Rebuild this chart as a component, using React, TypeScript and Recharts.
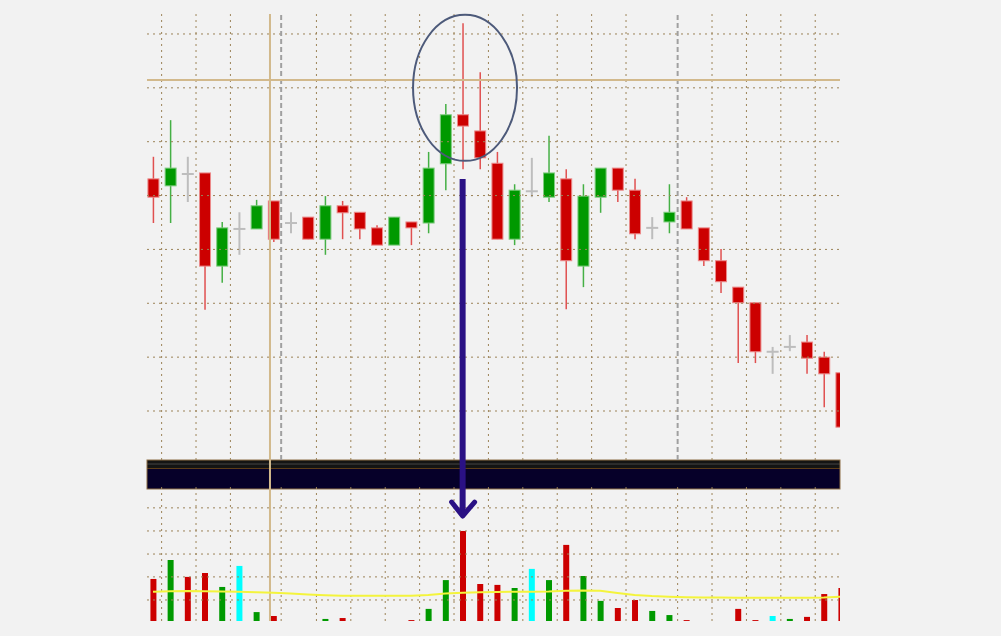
import React from "react";
import {
  ComposedChart,
  Bar,
  Line,
  XAxis,
  YAxis,
  Cell,
  ReferenceLine,
  ReferenceArea,
  ReferenceDot,
} from "recharts";

// candle prices (arbitrary units, one grid step = 10)
const opens = [143.1, 141.8, 144.0, 144.2, 126.9, 133.8, 133.8, 139.0, 134.9, 136.0, 131.9, 138.1, 136.9, 134.0, 130.8, 135.1, 134.9, 145.9, 155.0, 152.0, 146.0, 131.9, 140.8, 139.7, 143.1, 126.9, 139.7, 145.1, 141.0, 134.0, 135.1, 139.0, 134.0, 127.9, 123.0, 120.1, 111.0, 111.9, 112.8, 110.0, 107.1];
const highs = [147.2, 154.0, 147.2, 144.2, 135.1, 136.9, 139.2, 139.0, 136.9, 136.0, 139.9, 139.0, 136.9, 134.5, 136.0, 135.1, 148.1, 157.0, 172.0, 162.9, 148.1, 142.1, 147.0, 151.1, 144.9, 142.1, 145.1, 145.1, 143.1, 136.0, 142.1, 139.7, 134.0, 130.1, 123.0, 120.1, 111.9, 114.1, 114.1, 111.0, 108.9];
const lows = [134.9, 134.9, 138.8, 118.8, 123.8, 129.0, 133.8, 131.4, 133.0, 131.9, 129.0, 131.9, 131.9, 130.8, 130.8, 130.8, 133.0, 141.0, 144.9, 144.9, 131.9, 130.8, 139.7, 138.8, 118.9, 123.0, 136.8, 138.8, 131.9, 131.9, 133.0, 133.8, 126.9, 121.9, 108.9, 108.9, 106.9, 111.1, 106.9, 100.7, 94.1];
const closes = [139.7, 145.1, 144.0, 126.9, 134.0, 133.8, 138.1, 131.9, 134.9, 131.9, 138.1, 136.8, 133.8, 130.8, 136.0, 134.0, 145.1, 155.0, 152.9, 147.0, 131.9, 141.0, 140.8, 144.2, 127.9, 139.9, 145.1, 141.0, 132.9, 134.0, 136.9, 133.8, 127.9, 124.0, 120.1, 111.0, 111.0, 111.9, 109.8, 106.9, 97.0];

// volume histogram + its moving average
const volumes = [18.4, 26.7, 19.3, 21.0, 14.9, 24.1, 3.9, 2.2, 0, 0, 0.9, 1.3, 0, 0, 0, 0.4, 5.3, 17.9, 39.4, 16.2, 15.8, 14.4, 22.8, 17.9, 33.3, 19.7, 8.8, 5.7, 9.2, 4.4, 2.6, 0.4, 0, 0, 5.3, 0.4, 2.2, 0.9, 1.8, 11.8, 14.4];
const volColors = "rgrrgcgrrrgrrrrrggrrrgcgrggrrggrrrrrcgrrr";
const volMa = [12.8, 13.0, 13.1, 13.0, 12.9, 12.8, 12.6, 12.4, 12.0, 11.6, 11.3, 11.1, 11.1, 11.0, 11.0, 11.0, 11.4, 12.0, 12.4, 12.6, 12.7, 12.8, 12.8, 12.9, 13.2, 13.3, 13.2, 12.3, 11.4, 10.9, 10.6, 10.4, 10.3, 10.3, 10.2, 10.2, 10.2, 10.2, 10.2, 10.3, 10.6];

// grid positions
const priceGrid = [100, 110, 120, 130, 140, 150, 160, 170];
const volGrid = [9.2, 19.3, 29.3, 39.4, 49.5];
const timeGrid = [0.5, 2.5, 4.5, 9.5, 11.5, 13.5, 15.5, 17.5, 19.5, 21.5, 23.5, 25.5, 27.5, 32.5, 34.5, 36.5, 38.5];
const sessionBreaks = [7.45, 30.5];

const data = opens.map((o, i) => ({
  i,
  o,
  h: highs[i],
  l: lows[i],
  c: closes[i],
  vol: volumes[i],
  ma: volMa[i],
}));

const colorOf: Record<string, string> = { r: "#cc0000", g: "#009900", c: "#00ffff" };

const Candle = (props: any) => {
  const { x, y, width, height, payload } = props;
  const { o, h, l, c } = payload;
  const k = height / (h - l);
  const py = (v: number) => y + (h - v) * k;
  const cx = x + width / 2;
  if (o === c) {
    return (
      <g stroke="#bdbdbd" strokeWidth={2}>
        <line x1={cx} x2={cx} y1={y} y2={y + height} />
        <line x1={x} x2={x + width} y1={py(o)} y2={py(o)} />
      </g>
    );
  }
  const up = c > o;
  const top = py(Math.max(o, c));
  const bot = py(Math.min(o, c));
  return (
    <g>
      <line x1={cx} x2={cx} y1={y} y2={y + height} stroke={up ? "#45b045" : "#e05050"} strokeWidth={1.5} />
      <rect
        x={x + 0.5}
        y={top}
        width={width - 1}
        height={Math.max(bot - top, 1)}
        fill={up ? "#009900" : "#cc0000"}
        stroke={up ? "#80cc80" : "#ec8a8a"}
        strokeWidth={1}
      />
    </g>
  );
};

const Band = (p: any) => (
  <g>
    <rect x={p.x} y={p.y} width={p.width} height={p.height} fill="#060029" />
    <rect x={p.x} y={p.y} width={p.width} height={8} fill="#141414" />
    <rect x={p.x} y={p.y + 3} width={p.width} height={2} fill="#2c2c2c" />
    <line x1={p.x} x2={p.x + p.width} y1={p.y + 8.5} y2={p.y + 8.5} stroke="#5c3c18" strokeWidth={1} />
    <rect x={p.x} y={p.y} width={p.width} height={p.height} fill="none" stroke="#8c6d45" strokeWidth={1} />
  </g>
);

const Ring = (p: any) => (
  <ellipse cx={p.cx} cy={p.cy} rx={52} ry={73} fill="none" stroke="#4d5a7a" strokeWidth={2} />
);

const Arrow = (p: any) => (
  <g stroke="#2a1184" fill="none">
    <line x1={p.x1} y1={p.y1} x2={p.x2} y2={p.y2 - 3} strokeWidth={6} />
    <polyline
      points={`${p.x2 - 11},${p.y2 - 14} ${p.x2},${p.y2} ${p.x2 + 12},${p.y2 - 14}`}
      strokeWidth={5}
      strokeLinecap="round"
      strokeLinejoin="round"
    />
  </g>
);

const gridColor = "#9c8358";

export default function App() {
  return (
    <div style={{ position: "absolute", left: 0, top: 0, width: 1001, height: 636, background: "#f2f2f2" }}>
      <ComposedChart
        width={1001}
        height={636}
        data={data}
        margin={{ top: 14, right: 161, bottom: 15, left: 147 }}
      >
        <XAxis xAxisId="p" dataKey="i" type="number" domain={[-0.35, 39.94]} allowDataOverflow hide />
        <XAxis xAxisId="v" dataKey="i" type="number" domain={[-0.35, 39.94]} allowDataOverflow hide />
        <YAxis yAxisId="p" type="number" domain={[61.01, 173.71]} allowDataOverflow hide />
        <YAxis yAxisId="v" type="number" domain={[0, 265.6]} allowDataOverflow hide />

        {priceGrid.map((v) => (
          <ReferenceLine key={"pg" + v} xAxisId="p" yAxisId="p" y={v} stroke={gridColor} strokeDasharray="2 4" />
        ))}
        {volGrid.map((v) => (
          <ReferenceLine key={"vg" + v} xAxisId="v" yAxisId="v" y={v} stroke={gridColor} strokeDasharray="2 4" />
        ))}
        {timeGrid.map((t) => (
          <ReferenceLine
            key={"tg" + t}
            xAxisId="p"
            yAxisId="p"
            segment={[{ x: t, y: 90.9 }, { x: t, y: 173.7 }]}
            stroke={gridColor}
            strokeDasharray="2 4"
          />
        ))}
        {timeGrid.concat(sessionBreaks).map((t) => (
          <ReferenceLine
            key={"tv" + t}
            xAxisId="v"
            yAxisId="v"
            segment={[{ x: t, y: 0 }, { x: t, y: 60 }]}
            stroke={gridColor}
            strokeDasharray="2 4"
          />
        ))}
        {sessionBreaks.map((t) => (
          <ReferenceLine
            key={"sb" + t}
            xAxisId="p"
            yAxisId="p"
            segment={[{ x: t, y: 90.9 }, { x: t, y: 173.7 }]}
            stroke="#a0a0a0"
            strokeWidth={2}
            strokeDasharray="5 3"
          />
        ))}

        <ReferenceLine xAxisId="p" yAxisId="p" x={6.8} stroke="#d2b98c" strokeWidth={2} />
        <ReferenceLine xAxisId="p" yAxisId="p" y={161.46} stroke="#d2b98c" strokeWidth={2} />

        <Bar
          xAxisId="p"
          yAxisId="p"
          dataKey={(d: any) => [d.l, d.h]}
          barSize={12}
          shape={Candle}
          isAnimationActive={false}
        />
        <Bar xAxisId="v" yAxisId="v" dataKey="vol" barSize={6} isAnimationActive={false}>
          {data.map((d, i) => (
            <Cell key={i} fill={colorOf[volColors[i]]} />
          ))}
        </Bar>
        <Line
          xAxisId="v"
          yAxisId="v"
          dataKey="ma"
          stroke="#f4f43c"
          strokeWidth={2}
          dot={false}
          isAnimationActive={false}
        />

        <ReferenceArea xAxisId="p" yAxisId="p" y1={85.52} y2={90.9} shape={Band} ifOverflow="visible" />
        <ReferenceDot xAxisId="p" yAxisId="p" x={18.14} y={160} r={1} shape={Ring} ifOverflow="visible" />
        <ReferenceLine
          xAxisId="p"
          yAxisId="p"
          segment={[{ x: 18, y: 143.07 }, { x: 18, y: 80.5 }]}
          shape={Arrow}
          ifOverflow="visible"
        />
      </ComposedChart>
    </div>
  );
}
